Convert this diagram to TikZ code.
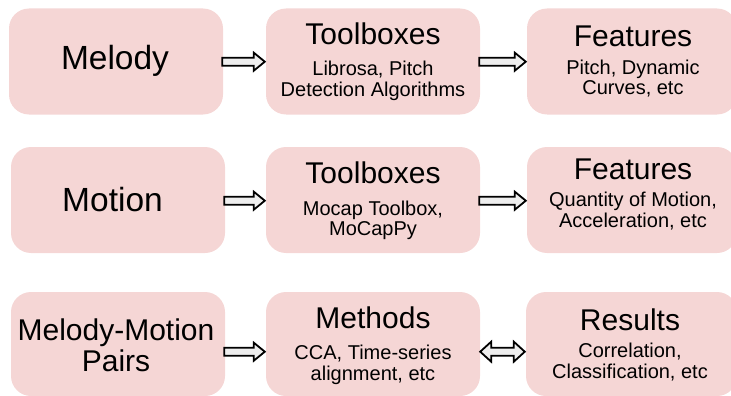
\documentclass[tikz,border=0pt]{standalone}
\usepackage{fontspec}
\setmainfont{Liberation Sans}
\usetikzlibrary{calc}
\definecolor{boxpink}{HTML}{F5D6D5}
\definecolor{arrowfill}{HTML}{EEEEEE}

% Outlined block arrow from the east side of #1 to the west side of #2, at height #3
\newcommand{\blockarrow}[3]{%
  \draw[blk] let \p1=(#1.east), \p2=(#2.west), \p3=(0,#3) in
    (\x1-1pt,\y3+4pt) -- (\x2-12pt,\y3+4pt) -- (\x2-12pt,\y3+9pt) -- (\x2-1pt,\y3)
    -- (\x2-12pt,\y3-9pt) -- (\x2-12pt,\y3-4pt) -- (\x1-1pt,\y3-4pt) -- cycle;}
% Outlined double-headed block arrow between #1 and #2, at height #3
\newcommand{\blockarrowboth}[3]{%
  \draw[blk] let \p1=(#1.east), \p2=(#2.west), \p3=(0,#3) in
    (\x1,\y3) -- (\x1+11pt,\y3+10pt) -- (\x1+11pt,\y3+4pt) -- (\x2-12pt,\y3+4pt)
    -- (\x2-12pt,\y3+10pt) -- (\x2-1pt,\y3) -- (\x2-12pt,\y3-10pt) -- (\x2-12pt,\y3-4pt)
    -- (\x1+11pt,\y3-4pt) -- (\x1+11pt,\y3-10pt) -- cycle;}

\tikzset{
  box/.style={fill=boxpink, draw=none, rounded corners=20pt, inner sep=0pt,
    minimum height=106pt},
  big/.style={anchor=base, inner sep=0pt, font=\fontsize{33.5}{36}\selectfont},
  head/.style={anchor=base, inner sep=0pt, font=\fontsize{30}{32}\selectfont},
  sub/.style={anchor=base, inner sep=0pt, font=\fontsize{20}{21}\selectfont},
  blk/.style={draw=black, line width=1.8pt, fill=arrowfill, line join=miter},
}

\begin{document}
\begin{tikzpicture}[x=1pt,y=-1pt]
\useasboundingbox (0,0) rectangle (731,396);

% row 1: melody
\node[box, minimum width=214pt] (m1) at (116,61.5) {};
\node[box, minimum width=214pt] (m2) at (373,61.5) {};
\node[box, minimum width=210pt] (m3) at (632,61.5) {};
\node[big] (m1t) at (115,70) {Melody};
\node[head] (m2h) at (373,45) {Toolboxes};
\node[sub] (m2a) at (373,76) {Librosa, Pitch};
\node[sub] (m2b) at (373,96.7) {Detection Algorithms};
\node[head] (m3h) at (633,46.5) {Features};
\node[sub] (m3a) at (633,74.5) {Pitch, Dynamic};
\node[sub] (m3b) at (633,95) {Curves, etc};

% row 2: motion
\node[box, minimum width=214pt] (o1) at (118,200) {};
\node[box, minimum width=214pt] (o2) at (373,200) {};
\node[box, minimum width=210pt] (o3) at (632,200) {};
\node[big] (o1t) at (112.5,211.7) {Motion};
\node[head] (o2h) at (373,183.3) {Toolboxes};
\node[sub] (o2a) at (373,215) {Mocap Toolbox,};
\node[sub] (o2b) at (373,235.5) {MoCapPy};
\node[head] (o3h) at (633,179.3) {Features};
\node[sub] (o3a) at (633,206.7) {Quantity of Motion,};
\node[sub] (o3b) at (633,227.3) {Acceleration, etc};

% row 3: melody-motion pairs
\node[box, minimum width=214pt, minimum height=104pt] (p1) at (118,344) {};
\node[box, minimum width=214pt, minimum height=104pt] (p2) at (373,344) {};
\node[box, minimum width=211pt, minimum height=104pt] (p3) at (631.5,344) {};
\node[head] (p1a) at (116,340) {Melody-Motion};
\node[head] (p1b) at (116,371.7) {Pairs};
\node[head] (p2h) at (373,328.3) {Methods};
\node[sub] (p2a) at (373,359.3) {CCA, Time-series};
\node[sub] (p2b) at (373,380) {alignment, etc};
\node[head] (p3h) at (630,330) {Results};
\node[sub] (p3a) at (630,357.3) {Correlation,};
\node[sub] (p3b) at (630,378.3) {Classification, etc};

% connectors
\blockarrow{m1}{m2}{61.7}
\blockarrow{m2}{m3}{61.7}
\blockarrow{o1}{o2}{200.7}
\blockarrow{o2}{o3}{200.7}
\blockarrow{p1}{p2}{351.7}
\blockarrowboth{p2}{p3}{351.7}
\end{tikzpicture}
\end{document}
